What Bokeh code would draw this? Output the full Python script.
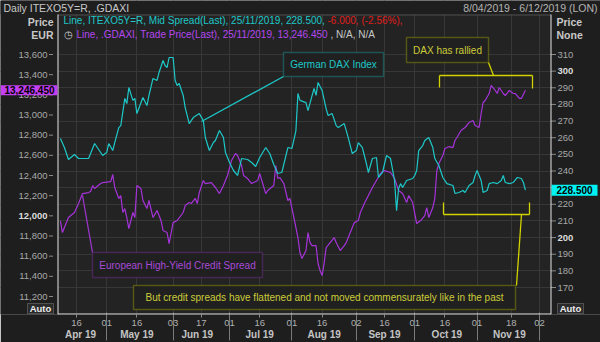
import pandas as pd
from bokeh.plotting import figure
from bokeh.models import (Range1d, DatetimeAxis, FixedTicker, DatetimeTickFormatter,
                          Label, BoxAnnotation, Arrow, Grid)
from bokeh.embed import file_html
from bokeh.resources import INLINE

# ---------------- data ----------------
spread_dates = ["2019-04-08", "2019-04-10", "2019-04-12", "2019-04-15", "2019-04-17", "2019-04-22",
                "2019-04-25", "2019-04-29", "2019-05-01", "2019-05-02", "2019-05-04", "2019-05-05",
                "2019-05-07", "2019-05-08", "2019-05-10", "2019-05-11", "2019-05-12", "2019-05-14",
                "2019-05-15", "2019-05-16", "2019-05-19", "2019-05-21", "2019-05-22", "2019-05-24",
                "2019-05-26", "2019-05-27", "2019-05-29", "2019-05-30", "2019-05-31", "2019-06-01",
                "2019-06-03", "2019-06-04", "2019-06-05", "2019-06-06", "2019-06-08", "2019-06-09",
                "2019-06-11", "2019-06-13", "2019-06-16", "2019-06-18", "2019-06-19", "2019-06-21",
                "2019-06-23", "2019-06-24", "2019-06-26", "2019-06-28", "2019-06-29", "2019-07-01",
                "2019-07-03", "2019-07-05", "2019-07-07", "2019-07-10", "2019-07-12", "2019-07-14",
                "2019-07-16", "2019-07-19", "2019-07-21", "2019-07-23", "2019-07-25", "2019-07-27",
                "2019-07-30", "2019-08-01", "2019-08-03", "2019-08-04", "2019-08-05", "2019-08-08",
                "2019-08-09", "2019-08-12", "2019-08-13", "2019-08-14", "2019-08-16", "2019-08-18",
                "2019-08-19", "2019-08-21", "2019-08-23", "2019-08-24", "2019-08-27", "2019-08-29",
                "2019-08-31", "2019-09-02", "2019-09-03", "2019-09-05", "2019-09-07", "2019-09-08",
                "2019-09-10", "2019-09-12", "2019-09-13", "2019-09-15", "2019-09-17", "2019-09-19",
                "2019-09-21", "2019-09-22", "2019-09-23", "2019-09-24", "2019-09-25", "2019-09-27",
                "2019-09-30", "2019-10-01", "2019-10-02", "2019-10-03", "2019-10-05", "2019-10-06",
                "2019-10-08", "2019-10-10", "2019-10-11", "2019-10-13", "2019-10-15", "2019-10-17",
                "2019-10-20", "2019-10-21", "2019-10-23", "2019-10-25", "2019-10-26", "2019-10-28",
                "2019-10-30", "2019-10-31", "2019-11-01", "2019-11-03", "2019-11-04", "2019-11-06",
                "2019-11-07", "2019-11-09", "2019-11-11", "2019-11-13", "2019-11-14", "2019-11-15",
                "2019-11-17", "2019-11-19", "2019-11-21", "2019-11-23", "2019-11-24", "2019-11-25"]
spread_values = [259.5, 254.1, 246.9, 249.9, 247.5, 247.5,
                 256.5, 249.3, 251.1, 256.5, 252.3, 257.1,
                 266.1, 267.3, 283.6, 280.5, 290.2, 282.4,
                 283.6, 274.5, 284.2, 279.3, 285.4, 295.6,
                 294.4, 299.2, 306.4, 303.4, 302.2, 308.2,
                 308.2, 294.4, 291.4, 292.6, 285.4, 278.1,
                 268.5, 272.1, 274.5, 270.3, 260.1, 252.3,
                 257.1, 258.3, 264.3, 260.1, 251.1, 245.1,
                 240.3, 237.3, 247.5, 246.9, 245.1, 242.7,
                 248.1, 254.1, 250.5, 243.9, 238.5, 239.1,
                 254.1, 253.5, 264.3, 286.6, 282.4, 281.1,
                 276.3, 289.6, 285.4, 293.2, 288.4, 277.5,
                 273.3, 274.5, 267.3, 266.1, 268.5, 260.1,
                 250.5, 252.3, 257.1, 254.1, 244.5, 239.1,
                 247.5, 248.1, 236.1, 239.1, 249.3, 247.5,
                 234.3, 216.2, 229.5, 232.4, 230.1, 234.3,
                 235.5, 237.3, 240.3, 252.3, 255.3, 258.3,
                 260.1, 254.1, 247.5, 243.3, 236.1, 232.4,
                 231.3, 226.5, 227.1, 228.3, 227.1, 231.3,
                 233.1, 237.3, 240.3, 234.3, 227.1, 228.3,
                 232.4, 233.1, 232.4, 234.3, 237.3, 233.1,
                 232.4, 233.1, 236.1, 235.5, 233.1, 228.5]

dax_dates = ["2019-04-08", "2019-04-09", "2019-04-10", "2019-04-12", "2019-04-15", "2019-04-17",
             "2019-04-19", "2019-04-22", "2019-04-23", "2019-04-24", "2019-04-25", "2019-04-28",
             "2019-04-29", "2019-05-03", "2019-05-04", "2019-05-05", "2019-05-07", "2019-05-08",
             "2019-05-09", "2019-05-10", "2019-05-11", "2019-05-12", "2019-05-14", "2019-05-15",
             "2019-05-16", "2019-05-18", "2019-05-19", "2019-05-21", "2019-05-22", "2019-05-24",
             "2019-05-26", "2019-05-28", "2019-05-29", "2019-05-31", "2019-06-01", "2019-06-03",
             "2019-06-05", "2019-06-08", "2019-06-09", "2019-06-11", "2019-06-12", "2019-06-14",
             "2019-06-15", "2019-06-16", "2019-06-18", "2019-06-19", "2019-06-22", "2019-06-24",
             "2019-06-26", "2019-06-28", "2019-06-30", "2019-07-02", "2019-07-04", "2019-07-05",
             "2019-07-07", "2019-07-08", "2019-07-10", "2019-07-12", "2019-07-15", "2019-07-16",
             "2019-07-19", "2019-07-20", "2019-07-23", "2019-07-24", "2019-07-25", "2019-07-26",
             "2019-07-28", "2019-07-30", "2019-07-31", "2019-08-02", "2019-08-04", "2019-08-05",
             "2019-08-06", "2019-08-08", "2019-08-09", "2019-08-10", "2019-08-11", "2019-08-13",
             "2019-08-14", "2019-08-15", "2019-08-16", "2019-08-17", "2019-08-18", "2019-08-20",
             "2019-08-22", "2019-08-23", "2019-08-25", "2019-08-27", "2019-08-28", "2019-08-30",
             "2019-09-01", "2019-09-03", "2019-09-04", "2019-09-06", "2019-09-08", "2019-09-10",
             "2019-09-12", "2019-09-14", "2019-09-16", "2019-09-19", "2019-09-21", "2019-09-23",
             "2019-09-25", "2019-09-27", "2019-09-28", "2019-09-30", "2019-10-02", "2019-10-04",
             "2019-10-06", "2019-10-07", "2019-10-08", "2019-10-10", "2019-10-11", "2019-10-12",
             "2019-10-13", "2019-10-15", "2019-10-16", "2019-10-18", "2019-10-20", "2019-10-21",
             "2019-10-22", "2019-10-24", "2019-10-26", "2019-10-28", "2019-10-30", "2019-10-31",
             "2019-11-02", "2019-11-03", "2019-11-04", "2019-11-05", "2019-11-07", "2019-11-08",
             "2019-11-10", "2019-11-11", "2019-11-12", "2019-11-14", "2019-11-15", "2019-11-17",
             "2019-11-19", "2019-11-20", "2019-11-22", "2019-11-23", "2019-11-25"]
dax_values = [11950, 11834, 11884, 11983, 12033, 12122,
              12221, 12231, 12241, 12300, 12271, 12320,
              12330, 12340, 12410, 12281, 12172, 12201,
              12033, 12072, 11983, 11874, 12033, 11983,
              12300, 12271, 12152, 12072, 12152, 11983,
              12052, 11953, 11854, 11834, 11725, 11933,
              11953, 12033, 12102, 12132, 12122, 12172,
              12122, 12231, 12350, 12320, 12330, 12281,
              12221, 12300, 12400, 12548, 12618, 12598,
              12499, 12400, 12370, 12320, 12350, 12420,
              12221, 12251, 12300, 12499, 12370, 12380,
              12320, 12152, 12172, 11983, 11785, 11636,
              11576, 11656, 11834, 11735, 11705, 11705,
              11527, 11457, 11408, 11527, 11685, 11735,
              11785, 11735, 11656, 11705, 11735, 11834,
              11933, 11953, 12033, 12122, 12201, 12281,
              12350, 12420, 12449, 12430, 12370, 12251,
              12221, 12132, 12201, 12132, 11923, 11953,
              12003, 12082, 11983, 12082, 12172, 12449,
              12519, 12598, 12668, 12687, 12677, 12747,
              12777, 12846, 12876, 12925, 12945, 12896,
              12876, 13015, 13124, 13144, 13213, 13293,
              13243, 13213, 13273, 13213, 13193, 13243,
              13213, 13213, 13164, 13164, 13246.45]

day_ticks = ["2019-04-16", "2019-05-01", "2019-05-16", "2019-06-03", "2019-06-17", "2019-07-01",
             "2019-07-16", "2019-08-01", "2019-08-16", "2019-09-02", "2019-09-16", "2019-10-01",
             "2019-10-16", "2019-11-01", "2019-11-18", "2019-12-02"]
month_starts = ["2019-05-01", "2019-06-03", "2019-07-01", "2019-08-01", "2019-09-02", "2019-10-01",
                "2019-11-01", "2019-12-02"]
month_label_pos = ["2019-04-18", "2019-05-16", "2019-06-15", "2019-07-16", "2019-08-17",
                   "2019-09-16", "2019-10-17", "2019-11-17"]
left_ticks = list(range(11200, 13601, 200))
right_ticks = list(range(170, 311, 10))
bold_left = [12000]
bold_right = [200, 300]

# ---------------- style / layout ----------------
FONT = "Liberation Sans"
CYAN = "#1ec8c8"
MAG = "#a533d9"
YEL = "#d2d200"
YEL_TXT = "#cccc3a"
BG = "#232323"
SIDE = "#1e1e1e"
GRID = "#373737"
TICKC = "#8a8a8a"
LBL = "#a8a8a8"

W, H, FB = 600, 342, 314          # canvas, frame bottom (frame spans full width)
PL, PR, PT = 57.5, 550.5, 14       # plot-area edges in px
PPD = 463 / 230                    # px per day   (16 Apr @ x=76 ... 2 Dec @ x=539)
PPU_L = 242 / 2400                 # px per EUR   (13,600 @ y=54 ... 11,200 @ y=296)
PPU_R = 233 / 140                  # px per unit  (310 @ y=54 ... 170 @ y=287)

ref_day = pd.Timestamp("2019-04-16")
x_start = ref_day - pd.Timedelta(days=76 / PPD)
x_end = ref_day + pd.Timedelta(days=(W - 76) / PPD)


def x_at(px):
    return ref_day + pd.Timedelta(days=(px - 76) / PPD)


p = figure(width=W, height=H, x_axis_type=None, y_axis_type=None,
           x_range=Range1d(x_start, x_end),
           y_range=Range1d(13600 - (FB - 54) / PPU_L, 13600 + 54 / PPU_L),
           output_backend="svg", toolbar_location=None,
           min_border_left=0, min_border_right=0, min_border_top=0, min_border_bottom=H - FB,
           background_fill_color=BG, border_fill_color=SIDE, outline_line_color=None)
p.extra_y_ranges = {"spread": Range1d(310 - (FB - 54) / PPU_R, 310 + 54 / PPU_R)}


def ms(s):
    return pd.Timestamp(s).value // 10**6


def sy(cy):
    return FB - cy


# grids
p.add_layout(Grid(dimension=0, ticker=FixedTicker(ticks=[ms(d) for d in day_ticks]),
                  grid_line_color=GRID))
p.add_layout(Grid(dimension=1, ticker=FixedTicker(ticks=right_ticks), y_range_name="spread",
                  grid_line_color=GRID))

# side strips (outside the plotting area)
for l, r, b, t in [(0, PL, 0, FB), (PR, W, 0, FB), (0, W, sy(PT), FB)]:
    p.add_layout(BoxAnnotation(left=l, right=r, bottom=b, top=t, left_units="screen",
                               right_units="screen", bottom_units="screen", top_units="screen",
                               fill_color=SIDE, fill_alpha=1.0, line_color=None, level="underlay"))

# day axis
fmt_d = DatetimeTickFormatter(microseconds="%d", milliseconds="%d", seconds="%d", minsec="%d",
                              minutes="%d", hourmin="%d", hours="%d", days="%d", months="%d",
                              years="%d")
xd = DatetimeAxis(ticker=FixedTicker(ticks=[ms(d) for d in day_ticks]), formatter=fmt_d)
xd.axis_line_color = None
xd.major_tick_line_color = TICKC
xd.major_tick_out = 3
xd.major_tick_in = 0
xd.minor_tick_line_color = None
xd.minor_tick_out = 0
xd.minor_tick_in = 0
xd.major_label_standoff = 2
xd.major_label_text_color = "#b0b0b0"
xd.major_label_text_font = FONT
xd.major_label_text_font_size = "9.5px"
p.add_layout(xd, "below")

# month axis (labels centred in months, separators at month starts)
fmt_m = DatetimeTickFormatter(microseconds="%b %y", milliseconds="%b %y", seconds="%b %y",
                              minsec="%b %y", minutes="%b %y", hourmin="%b %y", hours="%b %y",
                              days="%b %y", months="%b %y", years="%b %y")
xm = DatetimeAxis(ticker=FixedTicker(ticks=[ms(d) for d in month_label_pos],
                                     minor_ticks=[ms(d) for d in month_starts]),
                  formatter=fmt_m)
xm.axis_line_color = None
xm.major_tick_line_color = None
xm.major_tick_out = 0
xm.major_tick_in = 0
xm.minor_tick_line_color = "#7a7a7a"
xm.minor_tick_in = 16
xm.minor_tick_out = 12
xm.major_label_standoff = -12
xm.major_label_text_color = "#c4c4c4"
xm.major_label_text_font = FONT
xm.major_label_text_font_size = "10px"
xm.major_label_text_font_style = "bold"
p.add_layout(xm, "below")

# value-axis tick marks
p.scatter(x=[x_at(50.5)] * len(left_ticks), y=left_ticks, marker="dash", size=4,
          line_color=TICKC, line_width=1)
p.scatter(x=[x_at(553)] * len(right_ticks), y=right_ticks, y_range_name="spread",
          marker="dash", size=5, line_color=TICKC, line_width=1)

# series
p.line(x=pd.to_datetime(dax_dates), y=dax_values, line_color=MAG, line_width=1.2)
p.line(x=pd.to_datetime(spread_dates), y=spread_values, y_range_name="spread",
       line_color=CYAN, line_width=1.2)


def lab(text, cx, cy, color, size="10px", align="left", bold=False):
    p.add_layout(Label(x=cx, y=sy(cy), x_units="screen", y_units="screen", text=text,
                       text_color=color, text_font=FONT, text_font_size=size,
                       text_align=align, text_baseline="middle",
                       text_font_style="bold" if bold else "normal"))


def box(l, t, r, b, color, fill="#202020", lw=1.5):
    p.add_layout(BoxAnnotation(left=l, right=r, top=sy(t), bottom=sy(b),
                               left_units="screen", right_units="screen",
                               top_units="screen", bottom_units="screen",
                               fill_color=fill, fill_alpha=1.0,
                               line_color=color, line_width=lw))


def seg(x0, y0, x1, y1, color, w=1.3):
    p.add_layout(Arrow(x_start=x0, y_start=sy(y0), x_end=x1, y_end=sy(y1),
                       start_units="screen", end_units="screen", end=None,
                       line_color=color, line_width=w))


# plot-area border
seg(PL, PT + 0.5, PR, PT + 0.5, "#505050", w=1)
seg(PL, PT, PL, FB, "#e6e6e6", w=1)
seg(PR, PT, PR, FB, "#e6e6e6", w=1)
seg(PL, FB - 0.5, PR, FB - 0.5, "#e6e6e6", w=1)

# value-axis tick labels
for v in left_ticks:
    b = v in bold_left
    p.add_layout(Label(x=47, y=v, x_units="screen", text=f"{v:,}",
                       text_color="#dcdcdc" if b else LBL, text_font=FONT,
                       text_font_size="9.5px", text_font_style="bold" if b else "normal",
                       text_align="right", text_baseline="middle"))
for v in right_ticks:
    b = v in bold_right
    p.add_layout(Label(x=557, y=v, x_units="screen", y_range_name="spread", text=str(v),
                       text_color="#dcdcdc" if b else LBL, text_font=FONT,
                       text_font_size="9.5px", text_font_style="bold" if b else "normal",
                       text_align="left", text_baseline="middle"))

# header texts
lab("Daily ITEXO5Y=R, .GDAXI", 3, 7, "#c8c8c8", size="10.5px")
lab("8/04/2019 - 6/12/2019 (LON)", 597, 7, "#b4b4b4", size="10.5px", align="right")
lab("Price", 53, 21, "#c8c8c8", size="10.5px", align="right", bold=True)
lab("EUR", 53, 34, "#c8c8c8", size="10.5px", align="right", bold=True)
lab("Price", 556, 21, "#c8c8c8", size="10.5px", bold=True)
lab("None", 556, 34, "#c8c8c8", size="10.5px", bold=True)

# legend lines
lab("Line, ITEXO5Y=R, Mid Spread(Last), 25/11/2019, 228.500, ", 63, 20, CYAN)
lab("-6.000, (-2.56%),", 327, 20, "#e01e1e")
lab("\u25f7", 68, 34, "#d0d0d0", size="10px", align="center")
lab("Line, .GDAXI, Trade Price(Last), 25/11/2019, 13,246.450", 76, 34, "#b347ef")
lab(", N/A, N/A", 330, 34, "#c8c8c8")

# Auto boxes
box(27, 303, 53, 313, "#b8b8b8", fill="#2a2a2a", lw=1)
lab("Auto", 40, 308, "#eeeeee", size="9.5px", align="center", bold=True)
box(557, 303, 583, 313, "#b8b8b8", fill="#2a2a2a", lw=1)
lab("Auto", 570, 308, "#eeeeee", size="9.5px", align="center", bold=True)

# current value tags
last_dax = dax_values[-1]
last_sp = spread_values[-1]
p.add_layout(BoxAnnotation(left=0, right=57, top=last_dax + 5 / PPU_L, bottom=last_dax - 5 / PPU_L,
                           left_units="screen", right_units="screen",
                           fill_color="#c23ff2", fill_alpha=1.0, line_color=None))
p.add_layout(Label(x=54, y=last_dax, x_units="screen", text=f"{last_dax:,.3f}",
                   text_color="#000000", text_font=FONT, text_font_size="10px",
                   text_font_style="bold", text_align="right", text_baseline="middle"))
p.add_layout(BoxAnnotation(left=551, right=597, top=last_sp + 5.5 / PPU_R,
                           bottom=last_sp - 5.5 / PPU_R, y_range_name="spread",
                           left_units="screen", right_units="screen",
                           fill_color="#00f2f2", fill_alpha=1.0, line_color=None))
p.add_layout(Label(x=574, y=last_sp, x_units="screen", y_range_name="spread",
                   text=f"{last_sp:.3f}", text_color="#000000", text_font=FONT,
                   text_font_size="10px", text_font_style="bold", text_align="center",
                   text_baseline="middle"))

# annotation: German DAX Index
seg(283, 76, 201, 121, CYAN)
box(283, 52, 383, 76, CYAN)
lab("German DAX Index", 333, 64, CYAN, align="center")

# annotation: DAX has rallied
seg(488, 62, 493, 75, YEL)
box(406, 37, 488, 62, YEL)
lab("DAX has rallied", 447, 50, YEL_TXT, align="center")
seg(439, 75, 532, 75, YEL)
seg(439, 75, 439, 87, YEL)
seg(532, 75, 532, 88, YEL)

# lower bracket
seg(443, 214, 529, 214, YEL)
seg(443, 214, 443, 202, YEL)
seg(529, 214, 529, 202, YEL)
seg(521, 214, 516, 285, YEL)

# bottom text box
box(133, 285, 515, 309, YEL)
lab("But credit spreads have flattened and not moved commensurately like in the past",
    324, 297, YEL_TXT, align="center")

# European High-Yield Credit Spread
seg(92, 252, 82, 195, "#9a34c8")
box(92, 252, 262, 277, "#9a34c8")
lab("European High-Yield Credit Spread", 177, 264.5, "#a84ad8", align="center")

open("out.html", "w").write(file_html(p, INLINE))
